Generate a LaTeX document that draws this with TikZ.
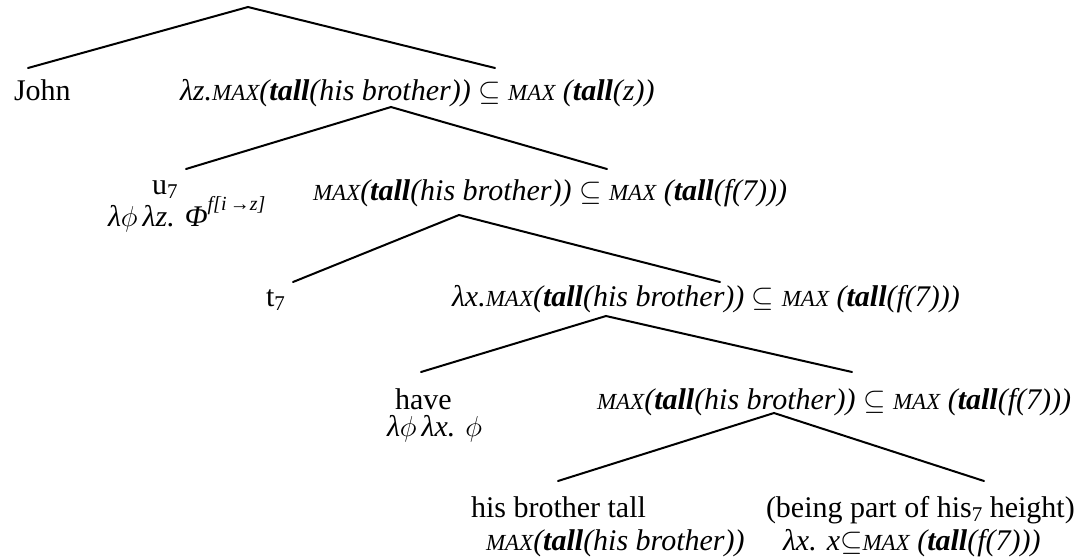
\documentclass[tikz,border=0pt]{standalone}
\usepackage{fontspec}
\setmainfont{Liberation Serif}

% small italic capitals for the MAX operator
\newcommand{\mx}{{\fontsize{11.5}{12}\selectfont\itshape MAX}}
% bold italic predicate
\newcommand{\tl}{\textbf{\textit{tall}}}
\newcommand{\sq}{$\subseteq$}
\newcommand{\lowsev}{\raisebox{-0.3ex}{\fontsize{10.5}{11}\selectfont 7}}
\newcommand{\assign}{\raisebox{1.15ex}{\fontsize{10}{10}\selectfont\itshape f[i\,→z]}}

\begin{document}
\begin{tikzpicture}[x=0.5pt,y=-0.5pt,
  every node/.style={inner sep=0pt, outer sep=0pt, anchor=base west,
                     font=\fontsize{15}{18}\selectfont},
  branch/.style={line width=1pt, line cap=round}]
\useasboundingbox (0,0) rectangle (1084,559);

% ---- labels ----
\node (john) at (14,100) {John};
\node (n1)   at (180,100) {\textit{λz.}\mx\textit{(\tl(his brother))} \sq\ \mx\ \textit{(\tl(z))}};

\node (u7)   at (152,194) {u\lowsev};
\node (u7s)  at (108,226) {\textit{λ}$\phi$\,\textit{λz. Φ}\assign};
\node (n2)   at (313,200) {\mx\textit{(\tl(his brother))} \sq\ \mx\ \textit{(\tl(f(7)))}};

\node (t7)   at (266,306) {t\lowsev};
\node (n3)   at (452,306) {\textit{λx.}\mx\textit{(\tl(his brother))} \sq\ \mx\ \textit{(\tl(f(7)))}};

\node (have) at (395,409) {have};
\node (haves) at (387,436) {\textit{λ}$\phi$\,\textit{λx.} $\phi$};
\node (n4)   at (597,409) {\mx\textit{(\tl(his brother))} \sq\ \mx\ \textit{(\tl(f(7)))}};

\node (hbt)  at (471,517) {his brother tall};
\node (hbts) at (486,550) {\mx\textit{(\tl(his brother))}};
\node (bp)   at (766,517) {(being part of his\lowsev\ height)};
\node (bps)  at (783,550) {\textit{λx. x}\sq\mx\ \textit{(\tl(f(7)))}};

% ---- branch points ----
\coordinate (a1) at (248,7);   \coordinate (l1) at (28,68);   \coordinate (r1) at (495,68);
\coordinate (a2) at (391,107); \coordinate (l2) at (186,169); \coordinate (r2) at (607,169);
\coordinate (a3) at (459,215); \coordinate (l3) at (293,282); \coordinate (r3) at (720,282);
\coordinate (a4) at (606,316); \coordinate (l4) at (421,372); \coordinate (r4) at (852,372);
\coordinate (a5) at (774,413); \coordinate (l5) at (558,481); \coordinate (r5) at (984,481);

% ---- branches ----
\foreach \k in {1,...,5} {
  \draw[branch] (l\k) -- (a\k) -- (r\k);
}
\end{tikzpicture}
\end{document}
